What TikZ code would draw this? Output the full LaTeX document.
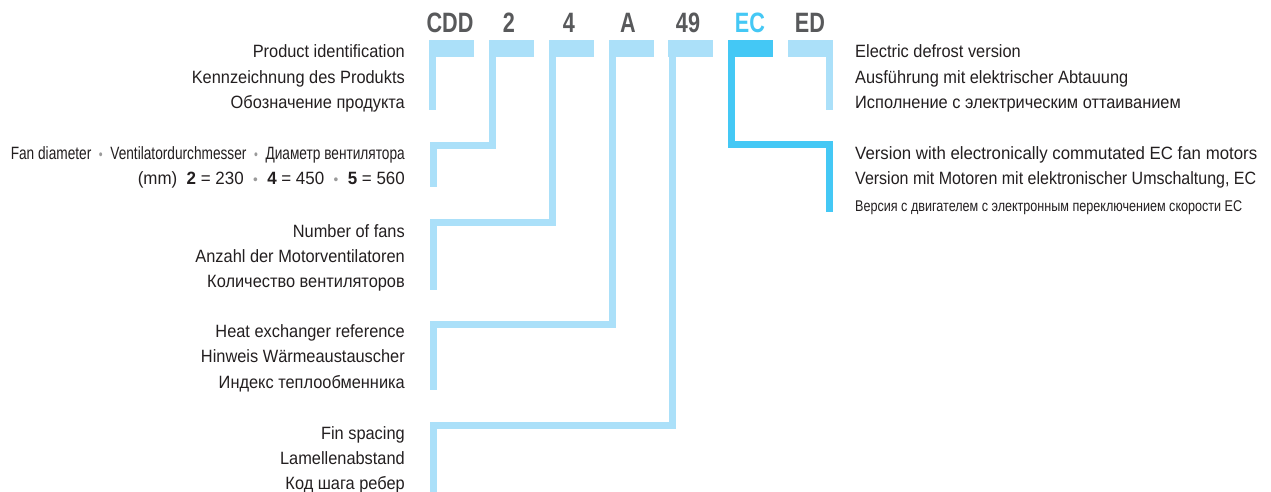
\documentclass[tikz,border=0pt]{standalone}
\usepackage{fontspec}
\setmainfont{Liberation Sans}[FakeStretch=0.92]
\usepackage{graphicx}
\definecolor{lb}{HTML}{ABE0F9}
\definecolor{cy}{HTML}{44C8F5}
\definecolor{codegray}{HTML}{58595B}
\definecolor{txt}{HTML}{231F20}
\definecolor{dotgray}{HTML}{9A9A9A}
\newcommand{\bdot}{{\color{dotgray}\scalebox{0.8}{•}}}
\tikzset{
 bar/.style={fill=lb, draw=none, minimum width=45pt, minimum height=17pt, inner sep=0pt, outer sep=0pt, anchor=north west},
 code/.style={anchor=base, inner sep=0pt, text=codegray, font=\fontsize{28}{30}\selectfont\bfseries},
 lbl/.style={inner sep=0pt, text=txt, font=\fontsize{17.8}{20}\selectfont},
 lt/.style={lbl, anchor=base east},
 rt/.style={lbl, anchor=base west},
 conn/.style={draw=lb, line width=7pt, line cap=butt, line join=miter},
}
\begin{document}
\begin{tikzpicture}[x=1pt,y=-1pt]
\useasboundingbox[fill=white] (0,0) rectangle (1271,492);
% code letters
\node[code] (cCDD) at (450,33) {\scalebox{0.84}[1]{CDD}};
\node[code] (c2) at (509,33) {\scalebox{0.84}[1]{2}};
\node[code] (c4) at (569,33) {\scalebox{0.84}[1]{4}};
\node[code] (cA) at (628,33) {\scalebox{0.84}[1]{A}};
\node[code] (c49) at (688,33) {\scalebox{0.84}[1]{49}};
\node[code, text=cy] (cEC) at (750,33) {\scalebox{0.84}[1]{EC}};
\node[code] (cED) at (810,33) {\scalebox{0.84}[1]{ED}};
% bars
\node[bar] (bCDD) at (429,40) {};
\node[bar] (b2) at (489,40) {};
\node[bar] (b4) at (549,40) {};
\node[bar] (bA) at (609,40) {};
\node[bar] (b49) at (668,40) {};
\node[bar, fill=cy] (bEC) at (728,40) {};
\node[bar] (bED) at (788,40) {};
% corner and end coordinates
\coordinate (eCDD) at (432.5,110);
\coordinate (k2) at (433.5,145.5);
\coordinate (e2) at (433.5,187);
\coordinate (k4) at (433.5,222.5);
\coordinate (e4) at (433.5,290);
\coordinate (kA) at (433.5,324);
\coordinate (eA) at (433.5,390);
\coordinate (k49) at (433.5,425.5);
\coordinate (e49) at (433.5,492);
\coordinate (kEC) at (829.5,144.5);
\coordinate (eEC) at (829.5,212);
\coordinate (eED) at (829.5,110);
% connectors
\draw[conn] ([xshift=3.5pt,yshift=0.5pt]bCDD.south west) -- (eCDD);
\draw[conn] ([xshift=3.5pt,yshift=0.5pt]b2.south west) |- (k2) -- (e2);
\draw[conn] ([xshift=3pt,yshift=0.5pt]b4.south west) |- (k4) -- (e4);
\draw[conn] ([xshift=3pt,yshift=0.5pt]bA.south west) |- (kA) -- (eA);
\draw[conn] ([xshift=4pt,yshift=0.5pt]b49.south west) |- (k49) -- (e49);
\draw[conn, draw=cy] ([xshift=3.5pt,yshift=0.5pt]bEC.south west) |- (kEC) -- (eEC);
\draw[conn] ([xshift=-3.5pt,yshift=0.5pt]bED.south east) -- (eED);
% left texts
\node[lt] (t1a) at (405,58) {Product identification};
\node[lt] (t1b) at (405,84) {Kennzeichnung des Produkts};
\node[lt] (t1c) at (405,109) {Обозначение продукта};
\node[lt] (t2a) at (405,159) {\resizebox{394pt}{\height}{Fan diameter\ \ \bdot\ \ Ventilatordurchmesser\ \ \bdot\ \ Диаметр вентилятора}};
\node[lt] (t2b) at (405,184) {\resizebox{267pt}{\height}{(mm)\ \ \textbf{2} = 230\ \ \bdot\ \ \textbf{4} = 450\ \ \bdot\ \ \textbf{5} = 560}};
\node[lt] (t3a) at (405,237) {Number of fans};
\node[lt] (t3b) at (405,262) {Anzahl der Motorventilatoren};
\node[lt] (t3c) at (405,287) {Количество вентиляторов};
\node[lt] (t4a) at (405,337) {Heat exchanger reference};
\node[lt] (t4b) at (405,362) {Hinweis Wärmeaustauscher};
\node[lt] (t4c) at (405,388) {Индекс теплообменника};
\node[lt] (t5a) at (405,439) {Fin spacing};
\node[lt] (t5b) at (405,464) {Lamellenabstand};
\node[lt] (t5c) at (405,489) {Код шага ребер};
% right texts
\node[rt] (r1a) at (855,58) {Electric defrost version};
\node[rt] (r1b) at (855,84) {Ausführung mit elektrischer Abtauung};
\node[rt] (r1c) at (855,109) {Исполнение с электрическим оттаиванием};
\node[rt] (r2a) at (855,159) {\resizebox{402pt}{\height}{Version with electronically commutated EC fan motors}};
\node[rt] (r2b) at (855,184) {\resizebox{401pt}{\height}{Version mit Motoren mit elektronischer Umschaltung, EC}};
\node[rt, font=\fontsize{15.5}{17}\selectfont] (r2c) at (855,211) {\resizebox{387pt}{\height}{Версия с двигателем с электронным переключением скорости EC}};
\end{tikzpicture}
\end{document}
